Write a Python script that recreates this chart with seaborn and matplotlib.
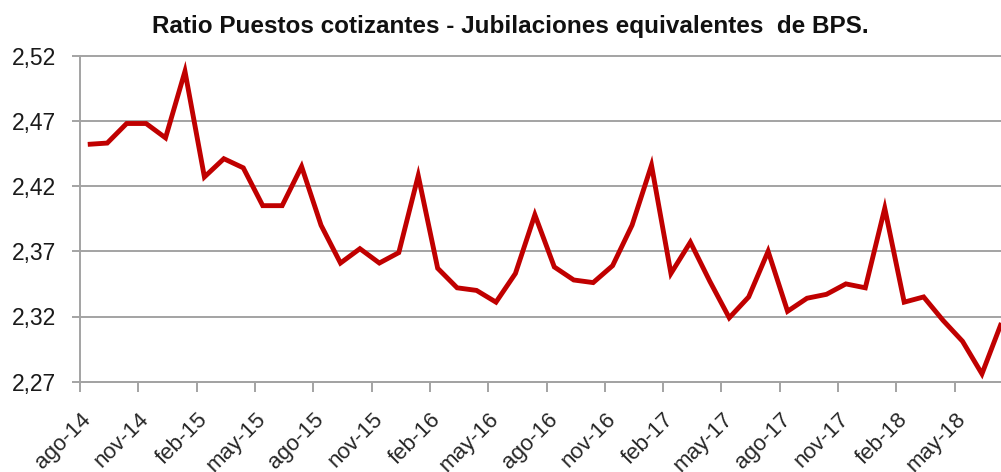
import numpy as np
import pandas as pd
import matplotlib
matplotlib.use("Agg")
import matplotlib.pyplot as plt
from matplotlib.ticker import FixedLocator, FuncFormatter
import seaborn as sns

months = ['ago-14', 'sep-14', 'oct-14', 'nov-14', 'dic-14', 'ene-15', 'feb-15', 'mar-15',
          'abr-15', 'may-15', 'jun-15', 'jul-15', 'ago-15', 'sep-15', 'oct-15', 'nov-15',
          'dic-15', 'ene-16', 'feb-16', 'mar-16', 'abr-16', 'may-16', 'jun-16', 'jul-16',
          'ago-16', 'sep-16', 'oct-16', 'nov-16', 'dic-16', 'ene-17', 'feb-17', 'mar-17',
          'abr-17', 'may-17', 'jun-17', 'jul-17', 'ago-17', 'sep-17', 'oct-17', 'nov-17',
          'dic-17', 'ene-18', 'feb-18', 'mar-18', 'abr-18', 'may-18', 'jun-18', 'jul-18']

ratio = [2.452, 2.453, 2.468, 2.468, 2.457, 2.508, 2.427, 2.441,
         2.434, 2.405, 2.405, 2.435, 2.390, 2.361, 2.372, 2.361,
         2.369, 2.428, 2.357, 2.342, 2.340, 2.331, 2.353, 2.398,
         2.358, 2.348, 2.346, 2.359, 2.390, 2.436, 2.353, 2.377,
         2.347, 2.319, 2.335, 2.370, 2.324, 2.334, 2.337, 2.345,
         2.342, 2.403, 2.331, 2.335, 2.317, 2.301, 2.276, 2.315]

tick_labels = ['ago-14', 'nov-14', 'feb-15', 'may-15', 'ago-15', 'nov-15', 'feb-16', 'may-16',
               'ago-16', 'nov-16', 'feb-17', 'may-17', 'ago-17', 'nov-17', 'feb-18', 'may-18']

y_ticks = [2.27, 2.32, 2.37, 2.42, 2.47, 2.52]

title = "Ratio Puestos cotizantes - Jubilaciones equivalentes  de BPS."

df = pd.DataFrame({"idx": np.arange(len(months)), "mes": months, "ratio": ratio})

sns.set_theme(style="white")
plt.rcParams['font.family'] = ['Liberation Sans', 'DejaVu Sans']

W, H = 1001, 472
fig = plt.figure(figsize=(W / 100, H / 100), dpi=100)
fig.patch.set_facecolor("white")
ax = fig.add_axes([80 / W, (H - 381.7) / H, 1 - 80 / W, (381.7 - 55.7) / H])

sns.lineplot(data=df, x="idx", y="ratio", ax=ax, color="#C00000", linewidth=3.5,
             solid_joinstyle="miter", solid_capstyle="butt")

grid_c = "#a3a3a3"
ax.set_ylim(2.27, 2.52)
ax.set_xlim(-0.4, 46.98)
ax.yaxis.set_major_locator(FixedLocator(y_ticks))
ax.yaxis.set_major_formatter(FuncFormatter(lambda v, p: f"{v:.2f}".replace(".", ",")))
ax.grid(axis="y", color=grid_c, linewidth=1.4)
ax.grid(axis="x", visible=False)
for gl in ax.yaxis.get_gridlines():
    gl.set_clip_on(False)

label_pos = [months.index(t) for t in tick_labels]
ax.set_xticks(label_pos)
ax.set_xticklabels(tick_labels)
ax.set_xticks([-0.4 + 3 * k for k in range(16)], minor=True)

ax.tick_params(axis="x", which="major", length=0, pad=25, labelsize=16, labelcolor="#262626")
ax.tick_params(axis="x", which="minor", length=7, width=1.4, color=grid_c, direction="out", bottom=True)
ax.tick_params(axis="y", which="major", length=6, width=1.4, color=grid_c, direction="out",
               left=True, pad=11, labelsize=16.5, labelcolor="#1a1a1a")
for lab in ax.get_xticklabels():
    lab.set_rotation(45)
    lab.set_ha("right")
    lab.set_va("center")
    lab.set_rotation_mode("anchor")

for s in ["top", "right"]:
    ax.spines[s].set_visible(False)
for s in ["left", "bottom"]:
    ax.spines[s].set_color(grid_c)
    ax.spines[s].set_linewidth(1.4)

ax.set_xlabel("")
ax.set_ylabel("")

fig.text(0.51, (H - 33) / H, title, ha="center", va="baseline", fontsize=17.5,
         fontweight="bold", color="#111111")

fig.savefig("out.png", dpi=100, facecolor="white")
